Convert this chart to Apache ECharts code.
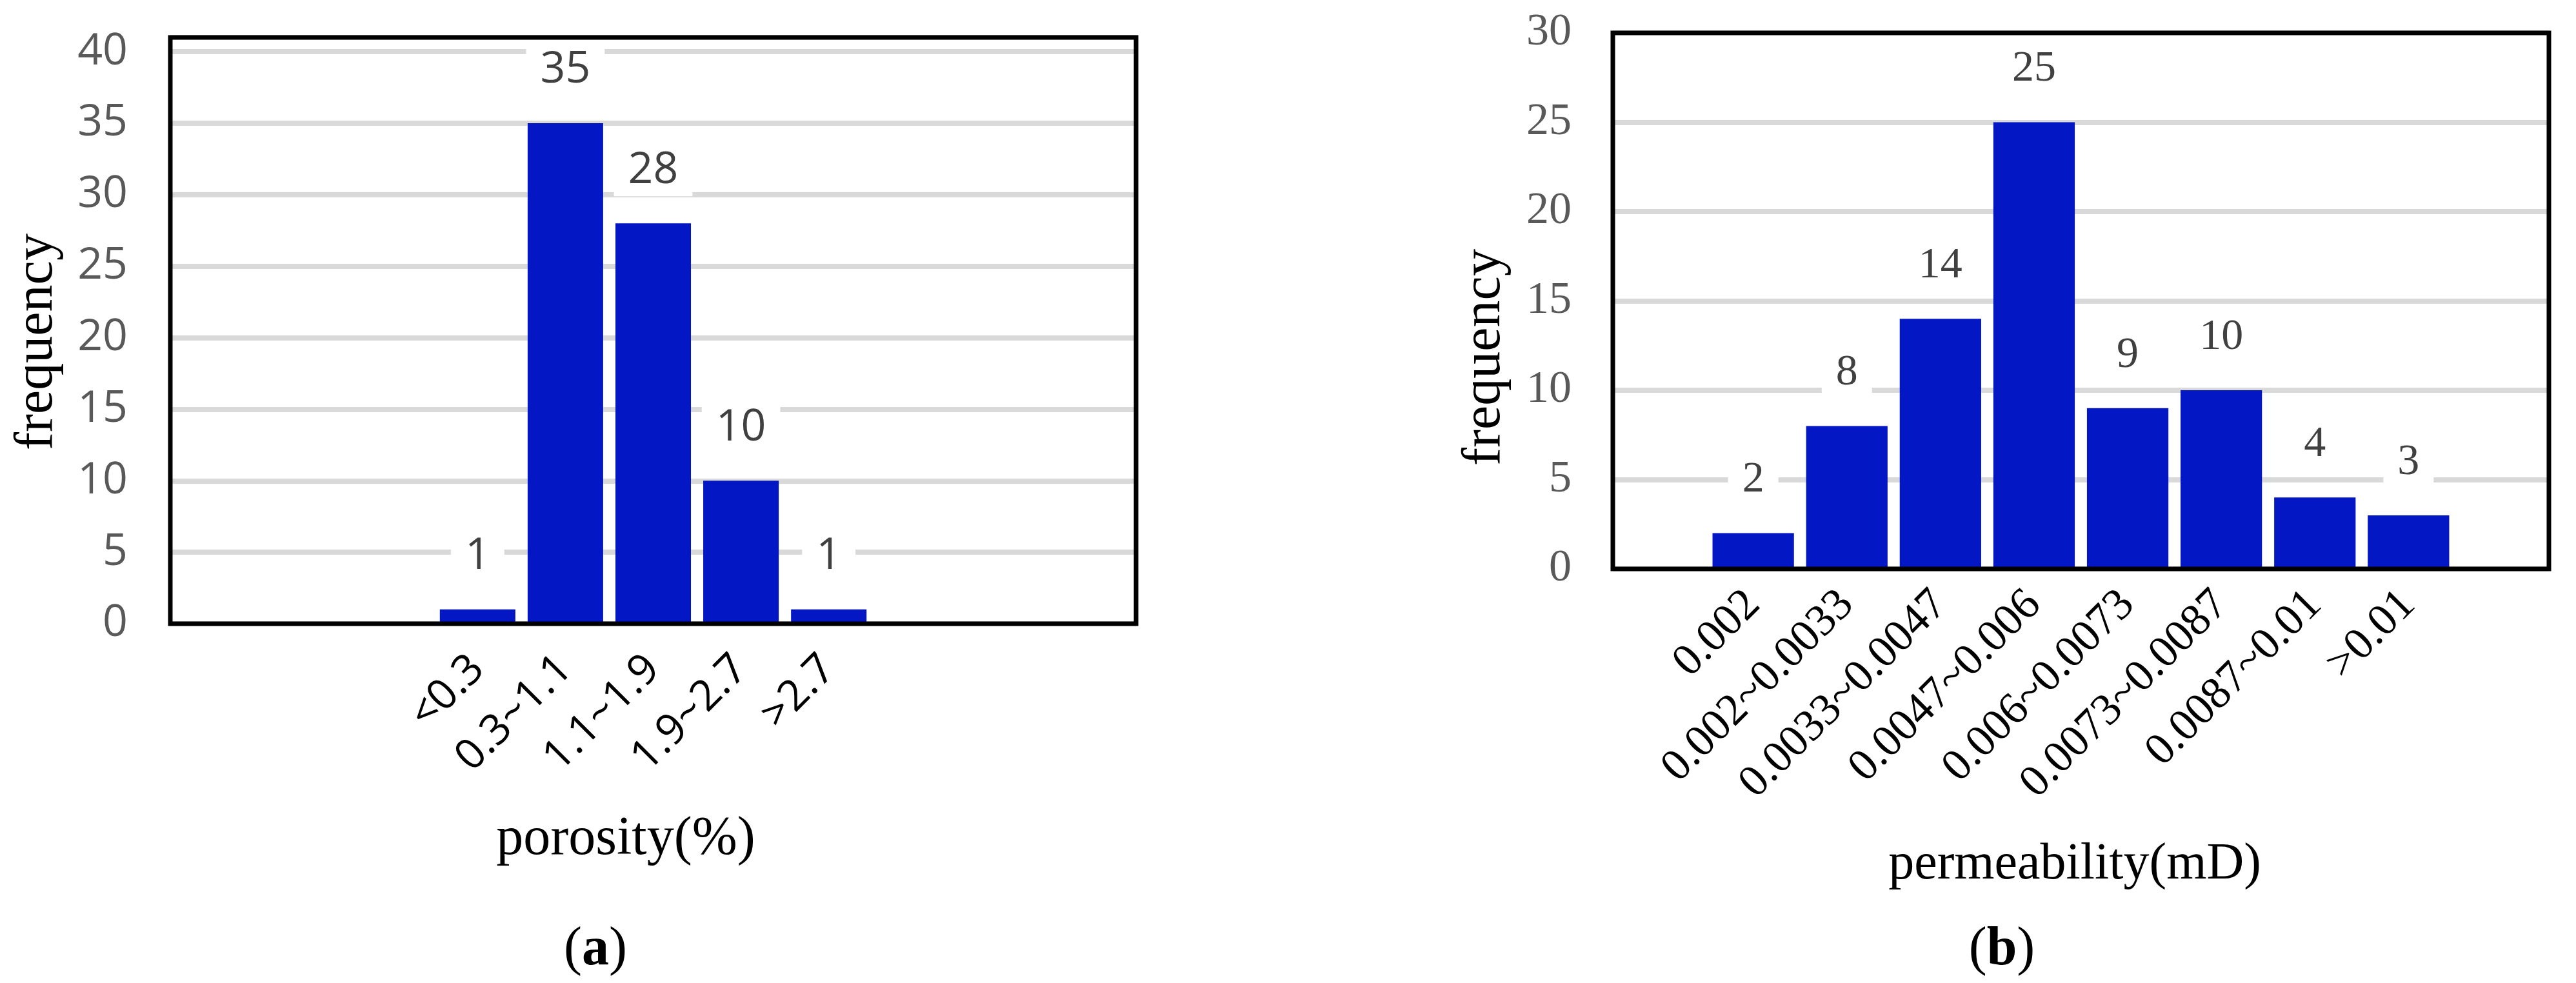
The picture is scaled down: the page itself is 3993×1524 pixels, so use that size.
<!DOCTYPE html>
<html>
<head>
<meta charset="utf-8">
<style>html,body{margin:0;padding:0;background:#fff;}</style>
</head>
<body>
<div id="chart" style="width:3993px;height:1524px;"></div>
<script src="https://cdn.jsdelivr.net/npm/echarts@6/dist/echarts.min.js"></script>
<script type="text/javascript">
    // (a) porosity: 11 slots, empty slots keep the bars where they are in the original
    var porosityCats = ['', '', '', '<0.3', '0.3~1.1', '1.1~1.9', '1.9~2.7', '>2.7', '', '', ''];
    var porosityFreq = ['-', '-', '-', 1, 35, 28, 10, 1, '-', '-', '-'];
    // (b) permeability: 10 slots
    var permCats = ['', '0.002', '0.002~0.0033', '0.0033~0.0047', '0.0047~0.006', '0.006~0.0073', '0.0073~0.0087', '0.0087~0.01', '>0.01', ''];
    var permFreq = ['-', 2, 8, 14, 25, 9, 10, 4, 3, '-'];

    var chart = echarts.init(document.getElementById('chart'));
    var sans = '"Liberation Sans Narrow", "Open Sans", sans-serif';
    var serif = '"Liberation Serif", "DejaVu Serif", serif';
    var blue = '#0317c4';

    // plot frames (drawn on top of the split lines)
    var gridA = { left: 264, top: 58, width: 1497, height: 909 };
    var gridB = { left: 2500, top: 51, width: 1451, height: 831 };

    function barLabel(font) {
        return {
            show: true, position: 'top', distance: 42,
            fontFamily: font, fontSize: 68, color: '#404040',
            backgroundColor: '#fff', padding: [6, 22]
        };
    }

    function frame(g) {
        return { type: 'rect', z: 100, silent: true,
                 shape: { x: g.left, y: g.top, width: g.width, height: g.height },
                 style: { fill: 'none', stroke: '#000', lineWidth: 7 } };
    }

    var option = {
        backgroundColor: '#fff',
        animation: false,
        grid: [gridA, gridB],
        xAxis: [
            { type: 'category', gridIndex: 0, data: porosityCats,
              axisLine: { show: false }, axisTick: { show: false },
              axisLabel: { interval: 0, rotate: 45, margin: 60, fontFamily: sans, fontSize: 66, color: '#000' } },
            { type: 'category', gridIndex: 1, data: permCats,
              axisLine: { show: false }, axisTick: { show: false },
              axisLabel: { interval: 0, rotate: 45, margin: 45, fontFamily: serif, fontSize: 70, color: '#000' } }
        ],
        yAxis: [
            { type: 'value', gridIndex: 0, min: 0, max: 41, interval: 5,
              axisLine: { show: false }, axisTick: { show: false },
              axisLabel: { margin: 66, fontFamily: sans, fontSize: 68, color: '#595959',
                           formatter: function (v) { return v % 5 === 0 ? v : ''; } },
              splitLine: { lineStyle: { color: '#d9d9d9', width: 8 } } },
            { type: 'value', gridIndex: 1, min: 0, max: 30, interval: 5,
              axisLine: { show: false }, axisTick: { show: false },
              axisLabel: { margin: 64, fontFamily: serif, fontSize: 70, color: '#595959' },
              splitLine: { lineStyle: { color: '#d9d9d9', width: 8 } } }
        ],
        series: [
            { type: 'bar', xAxisIndex: 0, yAxisIndex: 0, data: porosityFreq,
              barCategoryGap: '14%', itemStyle: { color: blue }, label: barLabel(sans) },
            { type: 'bar', xAxisIndex: 1, yAxisIndex: 1, data: permFreq,
              barCategoryGap: '13%', itemStyle: { color: blue }, label: barLabel(serif) }
        ],
        graphic: [
            frame(gridA),
            frame(gridB),
            { type: 'text', x: 58, y: 530, rotation: Math.PI / 2,
              style: { text: 'frequency', font: '84px ' + serif, fill: '#000', align: 'center', verticalAlign: 'middle' } },
            { type: 'text', x: 970, y: 1302,
              style: { text: 'porosity(%)', font: '84px ' + serif, fill: '#000', align: 'center', verticalAlign: 'middle' } },
            { type: 'text', x: 923, y: 1473,
              style: { text: '({b|a})', font: '84px ' + serif, fill: '#000', align: 'center', verticalAlign: 'middle',
                       rich: { b: { fontWeight: 'bold', fontSize: 84, fontFamily: serif } } } },
            { type: 'text', x: 2302, y: 554, rotation: Math.PI / 2,
              style: { text: 'frequency', font: '84px ' + serif, fill: '#000', align: 'center', verticalAlign: 'middle' } },
            { type: 'text', x: 3216, y: 1341,
              style: { text: 'permeability(mD)', font: '80px ' + serif, fill: '#000', align: 'center', verticalAlign: 'middle' } },
            { type: 'text', x: 3103, y: 1473,
              style: { text: '({b|b})', font: '84px ' + serif, fill: '#000', align: 'center', verticalAlign: 'middle',
                       rich: { b: { fontWeight: 'bold', fontSize: 84, fontFamily: serif } } } }
        ]
    };

    chart.setOption(option);
</script>
</body>
</html>
